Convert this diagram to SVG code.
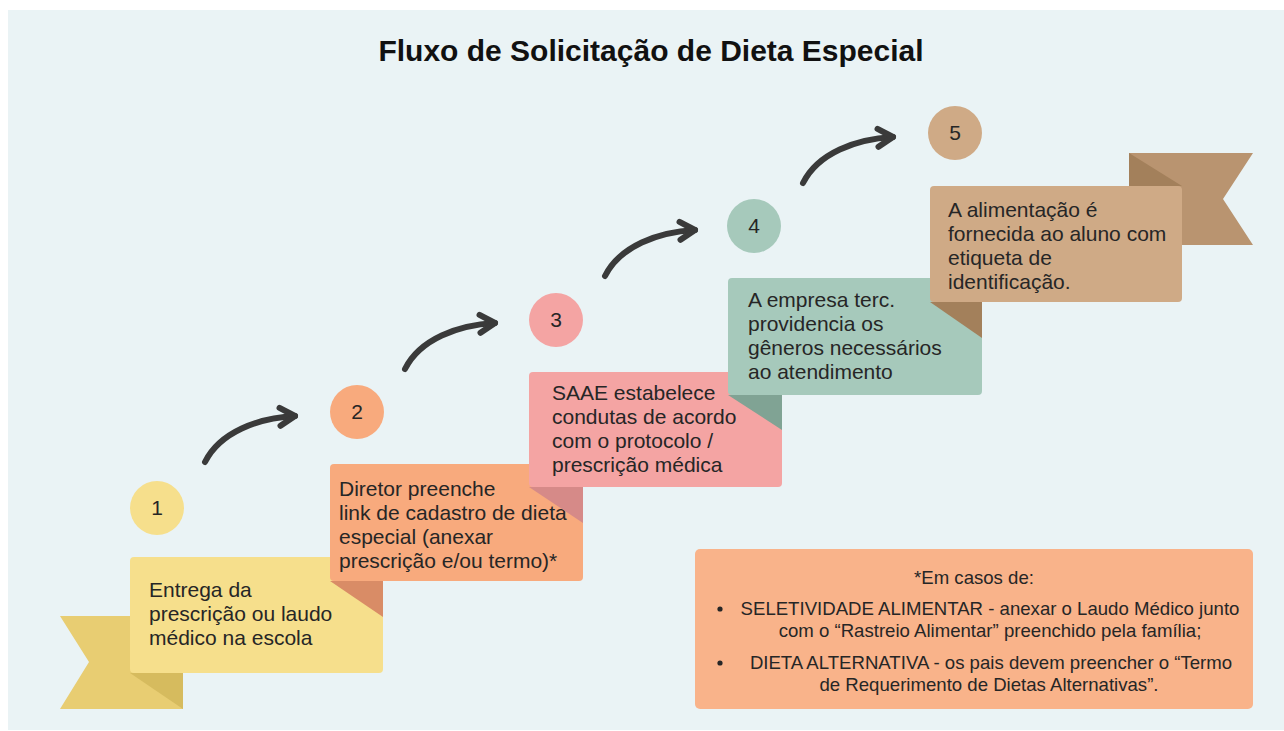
<svg xmlns="http://www.w3.org/2000/svg" width="1284" height="731" viewBox="0 0 1284 731">
  <style>
    .txt { font-family: "Liberation Sans", Arial, sans-serif; font-size: 21px; fill: #262626; }
    .num { font-family: "Liberation Sans", Arial, sans-serif; font-size: 21px; fill: #262626; text-anchor: middle; }
    .note { font-family: "Liberation Sans", Arial, sans-serif; font-size: 18.6px; fill: #262626; text-anchor: middle; }
    .title { font-family: "Liberation Sans", Arial, sans-serif; font-size: 30px; font-weight: bold; fill: #111111; text-anchor: middle; }
    .arrow { fill: none; stroke: #3a3a3a; stroke-width: 6; stroke-linecap: round; }
  </style>
  <defs>
    <marker id="head" markerUnits="userSpaceOnUse" markerWidth="30" markerHeight="30" viewBox="-22 -15 30 30" refX="0" refY="0" orient="auto">
      <path d="M-15,-9 L0,0 L-15,9" fill="none" stroke="#3a3a3a" stroke-width="6" stroke-linecap="round" stroke-linejoin="round"/>
    </marker>
  </defs>

  <rect x="0" y="0" width="1284" height="731" fill="#ffffff"/>
  <rect x="8" y="10" width="1276" height="720" fill="#eaf3f5"/>

  <text class="title" x="651" y="61">Fluxo de Solicitação de Dieta Especial</text>

  <g id="step1">
    <polygon points="60,616 183,616 183,709 60,709 89,662" fill="#e8cd72"/>
    <polygon points="130,673 183,673 183,709" fill="#d6bb5e"/>
    <rect x="130" y="557" width="253" height="116" rx="4" fill="#f6df8c"/>
    <circle cx="157" cy="508" r="27" fill="#f6df8c"/>
    <text class="num" x="157" y="515">1</text>
    <text class="txt" x="149" y="597">Entrega da</text>
    <text class="txt" x="149" y="621">prescrição ou laudo</text>
    <text class="txt" x="149" y="645">médico na escola</text>
  </g>

  <g id="step2">
    <polygon points="330,581 383,581 383,617" fill="#d98c66"/>
    <rect x="330" y="464" width="253" height="117" rx="4" fill="#f8aa7d"/>
    <circle cx="357" cy="412" r="27" fill="#f8aa7d"/>
    <text class="num" x="357" y="419">2</text>
    <text class="txt" x="339" y="496">Diretor preenche</text>
    <text class="txt" x="339" y="520">link de cadastro de dieta</text>
    <text class="txt" x="339" y="544">especial (anexar</text>
    <text class="txt" x="339" y="568">prescrição e/ou termo)*</text>
  </g>

  <g id="step3">
    <polygon points="529,487 583,487 583,523" fill="#d68a88"/>
    <rect x="529" y="372" width="253" height="115" rx="4" fill="#f4a4a3"/>
    <circle cx="556" cy="320" r="27" fill="#f4a4a3"/>
    <text class="num" x="556" y="327">3</text>
    <text class="txt" x="552" y="400">SAAE estabelece</text>
    <text class="txt" x="552" y="424">condutas de acordo</text>
    <text class="txt" x="552" y="448">com o protocolo /</text>
    <text class="txt" x="552" y="472">prescrição médica</text>
  </g>

  <g id="step4">
    <polygon points="728,395 782,395 782,430" fill="#80a394"/>
    <rect x="728" y="278" width="254" height="117" rx="4" fill="#a6c9bb"/>
    <circle cx="754" cy="226" r="27" fill="#a6c9bb"/>
    <text class="num" x="754" y="233">4</text>
    <text class="txt" x="748" y="307">A empresa terc.</text>
    <text class="txt" x="748" y="331">providencia os</text>
    <text class="txt" x="748" y="355">gêneros necessários</text>
    <text class="txt" x="748" y="379">ao atendimento</text>
  </g>

  <g id="step5">
    <polygon points="1129,153 1253,153 1223,199 1253,245 1129,245" fill="#b99470"/>
    <polygon points="1129,153 1182,186 1129,186" fill="#a3805b"/>
    <polygon points="930,302 982,302 982,338" fill="#a3805b"/>
    <rect x="930" y="186" width="252" height="116" rx="4" fill="#cfaa86"/>
    <circle cx="955" cy="133" r="27" fill="#cfaa86"/>
    <text class="num" x="955" y="140">5</text>
    <text class="txt" x="948" y="217">A alimentação é</text>
    <text class="txt" x="948" y="241">fornecida ao aluno com</text>
    <text class="txt" x="948" y="265">etiqueta de</text>
    <text class="txt" x="948" y="289">identificação.</text>
  </g>

  <g id="note">
    <rect x="695" y="549" width="558" height="160" rx="5" fill="#f9b38a"/>
    <text class="note" x="974" y="584">*Em casos de:</text>
    <circle cx="720" cy="609" r="2.6" fill="#262626"/>
    <text class="note" x="990" y="615">SELETIVIDADE ALIMENTAR - anexar o Laudo Médico junto</text>
    <text class="note" x="990" y="637">com o  “Rastreio Alimentar” preenchido pela família;</text>
    <circle cx="720" cy="663" r="2.6" fill="#262626"/>
    <text class="note" x="991" y="669">DIETA ALTERNATIVA - os pais devem preencher o “Termo</text>
    <text class="note" x="989" y="691">de Requerimento de Dietas Alternativas”.</text>
  </g>

  <g id="connectors">
    <path class="arrow" d="M205,462 C220,432 258,418 295,416" marker-end="url(#head)"/>
    <path class="arrow" d="M405,369 C420,339 458,325 495,323" marker-end="url(#head)"/>
    <path class="arrow" d="M605,276 C620,246 658,232 695,230" marker-end="url(#head)"/>
    <path class="arrow" d="M803,183 C818,153 856,139 893,137" marker-end="url(#head)"/>
  </g>
</svg>
